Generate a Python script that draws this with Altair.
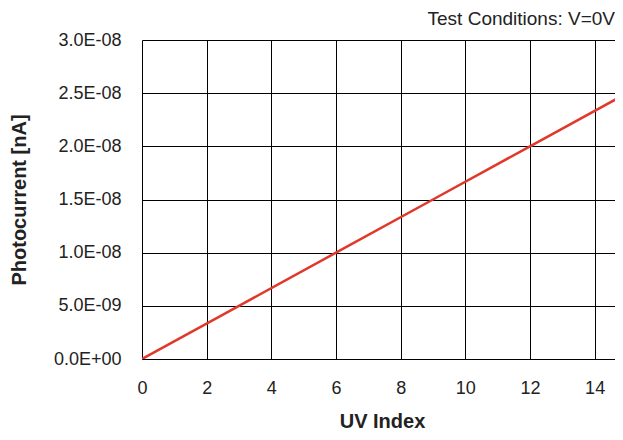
import altair as alt
import pandas as pd

# Data
uv_index = [0, 3, 6, 9, 12, 15]
photocurrent = [0.0, 5.0e-9, 1.0e-8, 1.5e-8, 2.0e-8, 2.5e-8]

x_ticks = [0, 2, 4, 6, 8, 10, 12, 14]
y_ticks = [0.0, 5.0e-9, 1.0e-8, 1.5e-8, 2.0e-8, 2.5e-8, 3.0e-8]
y_tick_labels = ["0.0E+00", "5.0E-09", "1.0E-08", "1.5E-08", "2.0E-08", "2.5E-08", "3.0E-08"]

df = pd.DataFrame({"uv": uv_index, "pc": photocurrent})

label_list = "[" + ",".join("'" + s + "'" for s in y_tick_labels) + "]"
y_label_expr = label_list + "[round(datum.value / 5e-9)]"

FONT = "Liberation Sans"
TEXT = "#222222"

chart = (
    alt.Chart(df)
    .mark_line(color="#e0382a", strokeWidth=2.5, clip=True)
    .encode(
        x=alt.X(
            "uv:Q",
            scale=alt.Scale(domain=[0, 14.63], nice=False, zero=False),
            axis=alt.Axis(
                title="UV Index",
                values=x_ticks,
                grid=True,
                gridColor="#000000",
                gridWidth=1,
                gridOpacity=1,
                ticks=False,
                domain=False,
                labelPadding=20,
                labelFont=FONT,
                labelFontSize=18,
                labelColor=TEXT,
                labelFlush=False,
                titleFont=FONT,
                titleFontSize=20,
                titleFontWeight="bold",
                titleColor=TEXT,
                titleX=240,
                titleY=62,
                titleBaseline="middle",
                titleAlign="center",
            ),
        ),
        y=alt.Y(
            "pc:Q",
            scale=alt.Scale(domain=[0, 3.0e-8], nice=False),
            axis=alt.Axis(
                title="Photocurrent [nA]",
                values=y_ticks,
                labelExpr=y_label_expr,
                grid=True,
                gridColor="#000000",
                gridWidth=1,
                gridOpacity=1,
                ticks=False,
                domain=False,
                labelPadding=21,
                labelFont=FONT,
                labelFontSize=18,
                labelColor=TEXT,
                labelFlush=False,
                titleFont=FONT,
                titleFontSize=20,
                titleFontWeight="bold",
                titleColor=TEXT,
                titleAngle=-90,
                titleX=-123,
                titleY=159.5,
                titleBaseline="middle",
                titleAlign="center",
            ),
        ),
    )
    .properties(
        width=473,
        height=319,
        autosize=alt.AutoSizeParams(type="none"),
        padding={"left": 134, "top": 32, "right": 0, "bottom": 73},
        title=alt.TitleParams(
            text="Test Conditions: V=0V",
            anchor="end",
            frame="group",
            font=FONT,
            fontSize=19,
            fontWeight="normal",
            color=TEXT,
            offset=12,
            dy=10,
        ),
    )
    .configure_view(stroke="#000000", strokeWidth=1)
    .configure(background="white")
)

chart.save("out.html", embed_options={"renderer": "svg", "actions": False})
